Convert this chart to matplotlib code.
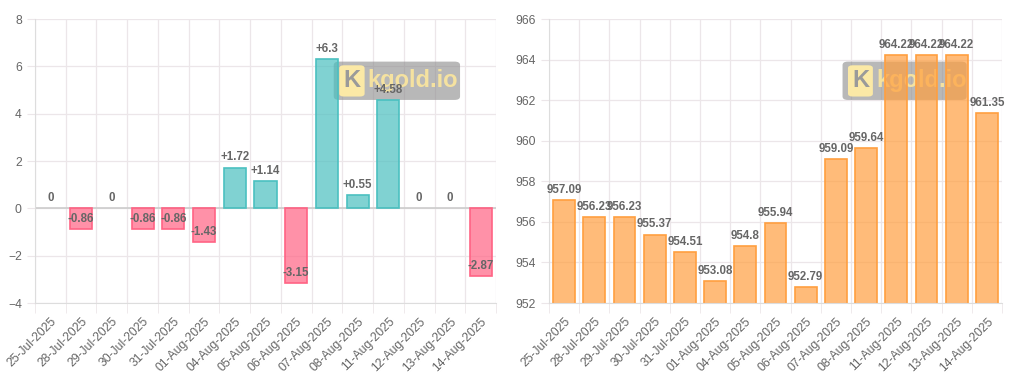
import matplotlib.pyplot as plt
from matplotlib.patches import FancyBboxPatch
import numpy as np

plt.rcParams['font.family'] = ['Liberation Sans', 'DejaVu Sans']

# data
dates = ['25-Jul-2025', '28-Jul-2025', '29-Jul-2025', '30-Jul-2025', '31-Jul-2025',
         '01-Aug-2025', '04-Aug-2025', '05-Aug-2025', '06-Aug-2025', '07-Aug-2025',
         '08-Aug-2025', '11-Aug-2025', '12-Aug-2025', '13-Aug-2025', '14-Aug-2025']
change = [0, -0.86, 0, -0.86, -0.86, -1.43, 1.72, 1.14, -3.15, 6.3, 0.55, 4.58, 0, 0, -2.87]
price = [957.09, 956.23, 956.23, 955.37, 954.51, 953.08, 954.8, 955.94, 952.79, 959.09,
         959.64, 964.22, 964.22, 964.22, 961.35]

grid_col = '#ece6e9'
txt_col = '#666666'


def style_axes(ax, ylim, yticks):
    n = len(dates)
    x = np.arange(n)
    ax.set_xlim(-0.5, n - 0.5)
    ax.set_ylim(*ylim)
    ax.set_yticks(yticks)
    ax.set_xticks(x)
    ax.set_xticklabels(dates, rotation=45, ha='right', rotation_mode='anchor',
                       fontsize=8.7, color=txt_col)
    ax.tick_params(axis='x', which='major', length=0, pad=9)
    ax.set_xticks(np.arange(n + 1) - 0.5, minor=True)
    ax.tick_params(axis='x', which='minor', length=7, color=grid_col)
    ax.tick_params(axis='y', labelsize=8.7, labelcolor=txt_col, length=6, color=grid_col)
    ax.grid(True, which='minor', axis='x', color=grid_col, lw=0.9)
    ax.grid(True, which='major', axis='y', color=grid_col, lw=0.9)
    ax.set_axisbelow(True)
    for s in ['top', 'right']:
        ax.spines[s].set_visible(False)
    for s in ['left', 'bottom']:
        ax.spines[s].set_color('#dddddd')


def watermark(ax):
    box = FancyBboxPatch((0.648, 0.715), 0.274, 0.135, boxstyle='round,pad=0,rounding_size=0.012',
                         transform=ax.transAxes, facecolor='#8a8a8a', alpha=0.6,
                         edgecolor='none', zorder=1.5)
    ax.add_patch(box)
    k = FancyBboxPatch((0.66, 0.727), 0.055, 0.11, boxstyle='round,pad=0,rounding_size=0.01',
                       transform=ax.transAxes, facecolor='#fbe9a6', edgecolor='none', zorder=1.6)
    ax.add_patch(k)
    ax.text(0.6875, 0.782, 'K', transform=ax.transAxes, ha='center', va='center',
            fontsize=17, fontweight='bold', color='#9a9a9a', zorder=1.7)
    ax.text(0.722, 0.782, 'kgold.io', transform=ax.transAxes, ha='left', va='center',
            fontsize=17, fontweight='bold', color='#f5e2a0', zorder=1.7)


fig = plt.figure(figsize=(10.24, 3.84), dpi=100)
ax1 = fig.add_axes([35 / 1024, 1 - 303 / 384, 461 / 1024, 284 / 384])
ax2 = fig.add_axes([549 / 1024, 1 - 303 / 384, 453 / 1024, 284 / 384])

# left: daily change
x = np.arange(len(dates))
face = [(75/255, 192/255, 192/255, 0.7) if v >= 0 else (255/255, 99/255, 132/255, 0.7) for v in change]
edge = ['#4bc0c0' if v >= 0 else '#ff6384' for v in change]
lws = [1.2 if v != 0 else 0 for v in change]
ax1.bar(x, change, width=0.72, color=face, edgecolor=edge, linewidth=lws, zorder=2)
style_axes(ax1, (-4, 8), [-4, -2, 0, 2, 4, 6, 8])
ax1.axhline(0, color='#cccccc', lw=1.2, zorder=1)
watermark(ax1)
for xi, v in zip(x, change):
    lab = '0' if v == 0 else f'{v:+g}'
    ax1.annotate(lab, (xi, v), xytext=(0, 3), textcoords='offset points', ha='center',
                 va='bottom', fontsize=8.3, fontweight='bold', color=txt_col, zorder=3)

# right: price
ax2.bar(x, price, width=0.72, color=(1, 159/255, 64/255, 0.7), edgecolor='#ff9f40',
        linewidth=1.2, zorder=2, bottom=0)
style_axes(ax2, (952, 966), [952, 954, 956, 958, 960, 962, 964, 966])
watermark(ax2)
for xi, v in zip(x, price):
    ax2.annotate(f'{v:g}', (xi, v), xytext=(0, 3), textcoords='offset points', ha='center',
                 va='bottom', fontsize=8.3, fontweight='bold', color=txt_col, zorder=3)

fig.savefig('out.png', dpi=100)
